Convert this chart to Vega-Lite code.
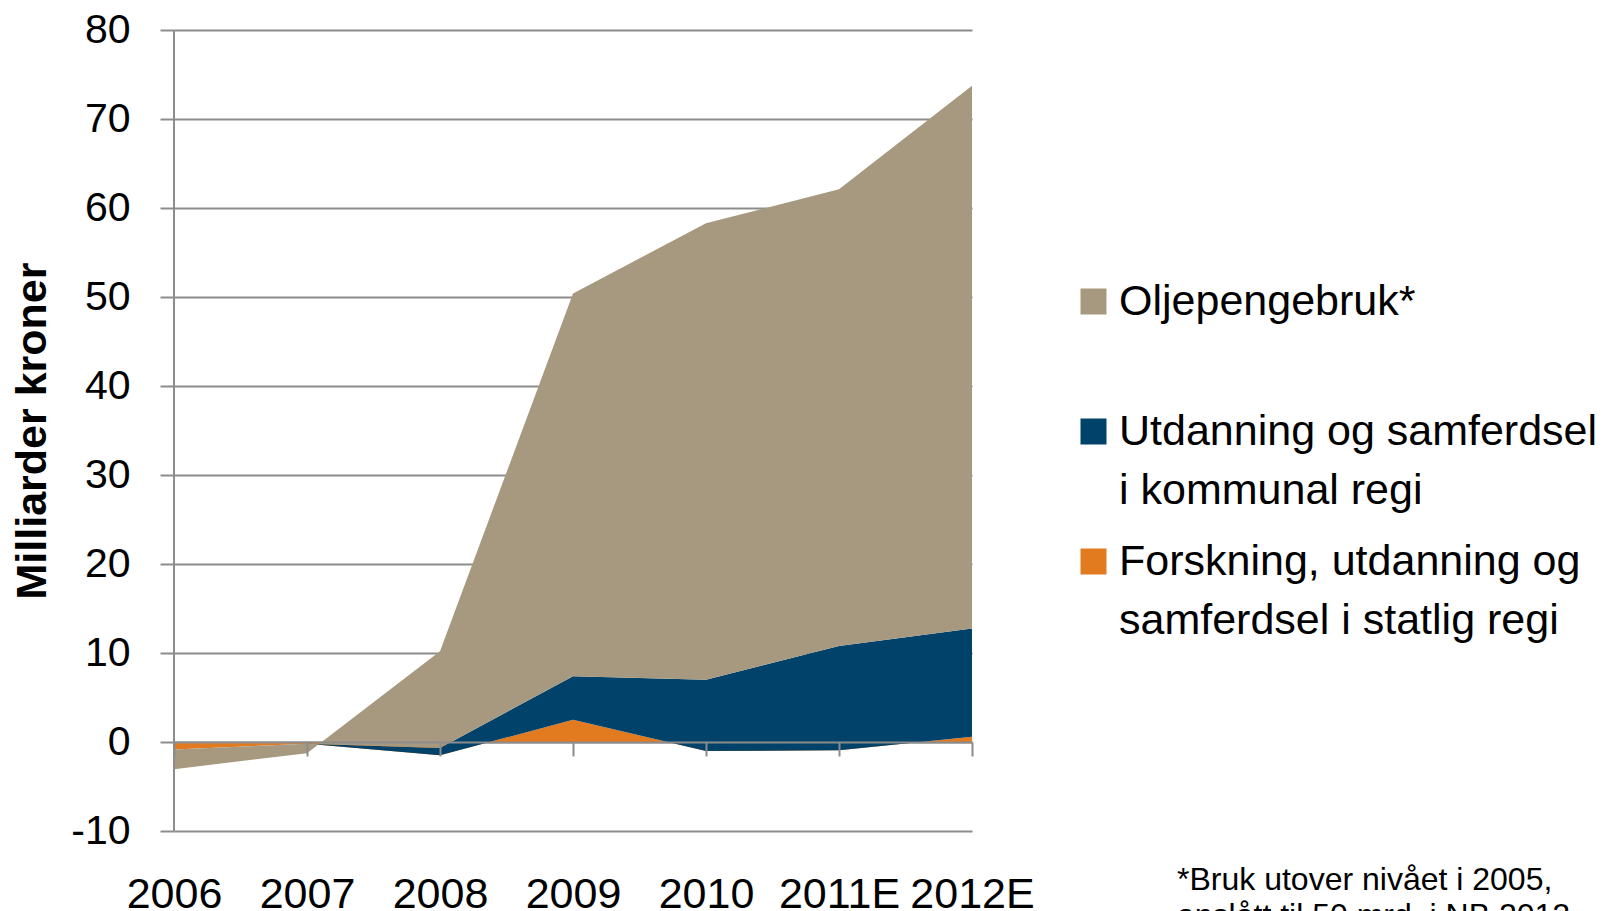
{
  "$schema": "https://vega.github.io/schema/vega-lite/v6.json",
  "autosize": {"type": "none"},
  "width": 798,
  "height": 801,
  "padding": {"left": 174, "top": 30, "right": 640, "bottom": 80},
  "config": {
    "view": {"stroke": null},
    "font": "Liberation Sans"
  },
  "title": {
    "text": ["*Bruk utover nivået i 2005,", "anslått til 50 mrd. i NB 2012"],
    "orient": "bottom",
    "anchor": "start",
    "align": "left",
    "frame": "group",
    "dx": 1003,
    "dy": -55,
    "font": "Liberation Sans",
    "fontSize": 32,
    "fontWeight": "normal",
    "lineHeight": 36,
    "color": "black"
  },
  "data": {
    "values": [
      {"year": "2006", "series": "Forskning, utdanning og samferdsel i statlig regi", "lo": 0, "hi": -0.85},
      {"year": "2007", "series": "Forskning, utdanning og samferdsel i statlig regi", "lo": 0, "hi": -0.2},
      {"year": "2008", "series": "Forskning, utdanning og samferdsel i statlig regi", "lo": 0, "hi": -1.5},
      {"year": "2009", "series": "Forskning, utdanning og samferdsel i statlig regi", "lo": 0, "hi": 2.5},
      {"year": "2010", "series": "Forskning, utdanning og samferdsel i statlig regi", "lo": 0, "hi": -1.0},
      {"year": "2011E", "series": "Forskning, utdanning og samferdsel i statlig regi", "lo": 0, "hi": -0.93},
      {"year": "2012E", "series": "Forskning, utdanning og samferdsel i statlig regi", "lo": 0, "hi": 0.6},
      {"year": "2006", "series": "Utdanning og samferdsel i kommunal regi", "lo": -0.85, "hi": -0.85},
      {"year": "2007", "series": "Utdanning og samferdsel i kommunal regi", "lo": -0.2, "hi": -0.2},
      {"year": "2008", "series": "Utdanning og samferdsel i kommunal regi", "lo": -1.5, "hi": -0.67},
      {"year": "2009", "series": "Utdanning og samferdsel i kommunal regi", "lo": 2.5, "hi": 7.38},
      {"year": "2010", "series": "Utdanning og samferdsel i kommunal regi", "lo": -1.0, "hi": 7.0},
      {"year": "2011E", "series": "Utdanning og samferdsel i kommunal regi", "lo": -0.93, "hi": 10.8},
      {"year": "2012E", "series": "Utdanning og samferdsel i kommunal regi", "lo": 0.6, "hi": 12.75},
      {"year": "2006", "series": "Oljepengebruk*", "lo": -0.85, "hi": -3.05},
      {"year": "2007", "series": "Oljepengebruk*", "lo": -0.2, "hi": -1.25},
      {"year": "2008", "series": "Oljepengebruk*", "lo": -0.67, "hi": 10.2},
      {"year": "2009", "series": "Oljepengebruk*", "lo": 7.38, "hi": 50.38},
      {"year": "2010", "series": "Oljepengebruk*", "lo": 7.0, "hi": 58.3},
      {"year": "2011E", "series": "Oljepengebruk*", "lo": 10.8, "hi": 62.1},
      {"year": "2012E", "series": "Oljepengebruk*", "lo": 12.75, "hi": 73.75}
    ]
  },
  "encoding": {
    "x": {
      "field": "year",
      "type": "ordinal",
      "scale": {"type": "point", "padding": 0, "domain": ["2006", "2007", "2008", "2009", "2010", "2011E", "2012E"]},
      "axis": {
        "title": null,
        "orient": "bottom",
        "offset": -89,
        "zindex": 1,
        "grid": false,
        "domain": true,
        "domainColor": "#8c8c8c",
        "domainWidth": 2,
        "ticks": true,
        "tickSize": 14,
        "tickWidth": 2,
        "tickColor": "#8c8c8c",
        "labelPadding": 117,
        "labelFont": "Liberation Sans",
        "labelFontSize": 43,
        "labelColor": "black",
        "labelAngle": 0
      }
    }
  },
  "layer": [
    {
      "transform": [{"filter": "datum.series == 'Forskning, utdanning og samferdsel i statlig regi'"}],
      "mark": {"type": "area", "interpolate": "linear", "opacity": 1},
      "encoding": {
        "y": {
          "field": "hi",
          "type": "quantitative",
          "scale": {"domain": [-10, 80], "nice": false, "zero": false},
          "axis": {
            "title": "Milliarder kroner",
            "titleFont": "Liberation Sans",
            "titleFontSize": 43,
            "titleFontWeight": "bold",
            "titleColor": "black",
            "titlePadding": 16,
            "values": [-10, 0, 10, 20, 30, 40, 50, 60, 70, 80],
            "labelExpr": "'' + datum.value",
            "grid": true,
            "gridColor": "#8c8c8c",
            "gridWidth": 2,
            "domain": false,
            "ticks": true,
            "tickSize": 14,
            "tickWidth": 2,
            "tickColor": "#8c8c8c",
            "labelPadding": 30,
            "labelFont": "Liberation Sans",
            "labelFontSize": 41,
            "labelColor": "black"
          }
        },
        "y2": {"field": "lo"},
        "color": {
          "field": "series",
          "type": "nominal",
          "scale": {
            "domain": ["Oljepengebruk*", "Utdanning og samferdsel i kommunal regi", "Forskning, utdanning og samferdsel i statlig regi"],
            "range": ["#a6997f", "#00426a", "#e27a20"]
          },
          "legend": {
            "title": null,
            "orient": "none",
            "legendX": 898,
            "legendY": 250,
            "padding": 0,
            "symbolType": "square",
            "symbolSize": 676,
            "symbolStrokeWidth": 0,
            "symbolOpacity": 1,
            "labelOffset": 4,
            "labelFont": "Liberation Sans",
            "labelFontSize": 43,
            "labelColor": "black",
            "labelLimit": 800,
            "rowPadding": 27,
            "labelExpr": "datum.label == 'Oljepengebruk*' ? ['Oljepengebruk*', ' '] : datum.label == 'Utdanning og samferdsel i kommunal regi' ? ['Utdanning og samferdsel', 'i kommunal regi'] : ['Forskning, utdanning og', 'samferdsel i statlig regi']",
            "encode": {"labels": {"update": {"lineHeight": {"value": 59}}}}
          }
        }
      }
    },
    {
      "transform": [{"filter": "datum.series == 'Utdanning og samferdsel i kommunal regi'"}],
      "mark": {"type": "area", "interpolate": "linear", "opacity": 1},
      "encoding": {
        "y": {"field": "hi", "type": "quantitative"},
        "y2": {"field": "lo"},
        "color": {"field": "series", "type": "nominal"}
      }
    },
    {
      "transform": [{"filter": "datum.series == 'Oljepengebruk*'"}],
      "mark": {"type": "area", "interpolate": "linear", "opacity": 1},
      "encoding": {
        "y": {"field": "hi", "type": "quantitative"},
        "y2": {"field": "lo"},
        "color": {"field": "series", "type": "nominal"}
      }
    },
    {
      "transform": [{"filter": "datum.series == 'Oljepengebruk*' && datum.year == '2006'"}],
      "mark": {"type": "rule", "color": "#8c8c8c", "strokeWidth": 2},
      "encoding": {
        "y": {"datum": -10},
        "y2": {"datum": 80}
      }
    }
  ]
}
